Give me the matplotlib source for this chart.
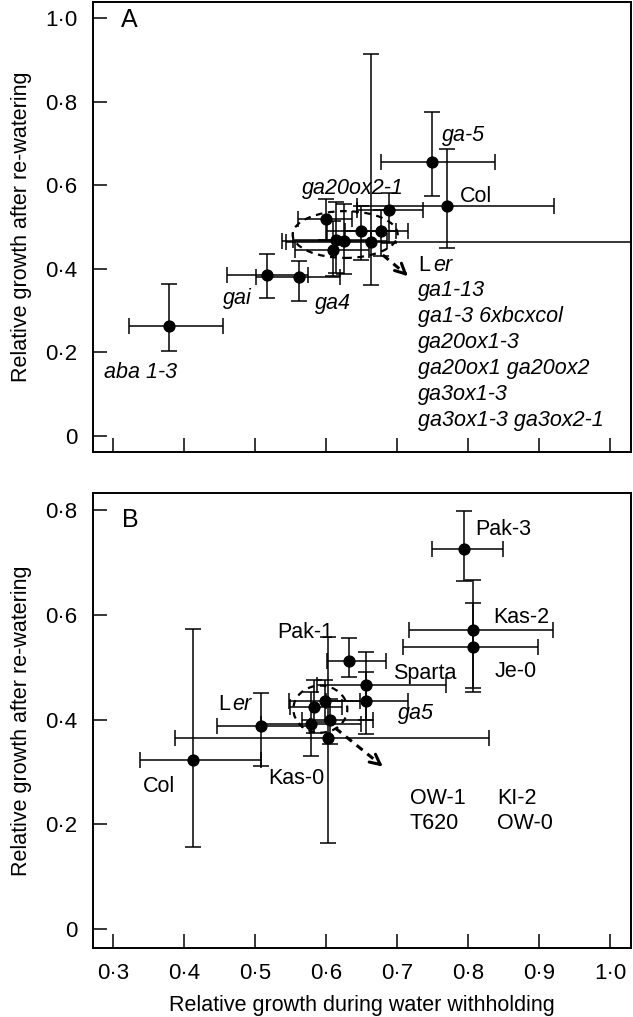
import matplotlib
matplotlib.use('Agg')
import numpy as np
from matplotlib import pyplot as plt
from matplotlib.patches import Ellipse

plt.rcParams['font.family'] = ['Liberation Sans', 'DejaVu Sans']

# panel A: GA / ABA mutants
namesA = ['aba 1-3', 'gai', 'ga4', 'ga20ox2-1', 'Ler', 'ga1-13', 'ga1-3 6xbcxcol',
          'ga20ox1-3', 'ga20ox1 ga20ox2', 'ga3ox1-3', 'ga3ox1-3 ga3ox2-1', 'ga-5', 'Col']
xA = [0.379, 0.517, 0.562, 0.600, 0.649, 0.677, 0.614, 0.626, 0.663, 0.610, 0.689, 0.749, 0.770]
yA = [0.264, 0.385, 0.380, 0.519, 0.491, 0.491, 0.469, 0.467, 0.465, 0.445, 0.541, 0.656, 0.551]
xloA = [0.057, 0.057, 0.060, 0.039, 0.048, 0.050, 0.060, 0.088, 0.120, 0.054, 0.046, 0.071, 0.127]
xhiA = [0.076, 0.057, 0.058, 0.036, 0.050, 0.039, 0.050, 0.060, 0.450, 0.050, 0.048, 0.089, 0.151]
yloA = [0.060, 0.055, 0.057, 0.050, 0.070, 0.060, 0.080, 0.080, 0.104, 0.062, 0.080, 0.082, 0.101]
yhiA = [0.100, 0.050, 0.039, 0.047, 0.060, 0.050, 0.090, 0.089, 0.450, 0.070, 0.040, 0.120, 0.136]

# panel B: accessions
namesB = ['Col', 'Ler', 'Kas-0', 'OW-1', 'KI-2', 'T620', 'OW-0', 'Pak-1', 'Sparta', 'ga5',
          'Kas-2', 'Je-0', 'Pak-3']
xB = [0.412, 0.508, 0.603, 0.598, 0.583, 0.579, 0.606, 0.633, 0.657, 0.657, 0.807, 0.807, 0.794]
yB = [0.322, 0.387, 0.364, 0.436, 0.425, 0.392, 0.399, 0.512, 0.466, 0.436, 0.572, 0.539, 0.725]
xloB = [0.074, 0.062, 0.216, 0.050, 0.034, 0.070, 0.040, 0.032, 0.070, 0.057, 0.090, 0.099, 0.044]
xhiB = [0.097, 0.070, 0.227, 0.050, 0.040, 0.070, 0.060, 0.051, 0.112, 0.058, 0.113, 0.091, 0.055]
yloB = [0.165, 0.075, 0.200, 0.040, 0.050, 0.061, 0.045, 0.030, 0.066, 0.063, 0.119, 0.079, 0.060]
yhiB = [0.252, 0.064, 0.194, 0.040, 0.050, 0.060, 0.040, 0.044, 0.064, 0.054, 0.094, 0.084, 0.074]

xticks = [0.3, 0.4, 0.5, 0.6, 0.7, 0.8, 0.9, 1.0]
yticksA = [0, 0.2, 0.4, 0.6, 0.8, 1.0]
yticksB = [0, 0.2, 0.4, 0.6, 0.8]

def dot(v):
    return '0' if v == 0 else f'{v:.1f}'.replace('.', '\u00b7')

W, H = 633, 1017
fig = plt.figure(figsize=(W / 100, H / 100), dpi=100)
axA = fig.add_axes([93 / W, 1 - 452 / H, 538 / W, 450 / H])
axB = fig.add_axes([93 / W, 1 - 948 / H, 538 / W, 455 / H])

fs = 15.5
tfs = 16
for ax, x, y, xlo, xhi, ylo, yhi, yt, ylim in [
        (axA, xA, yA, xloA, xhiA, yloA, yhiA, yticksA, (-0.0383, 1.0383)),
        (axB, xB, yB, xloB, xhiB, yloB, yhiB, yticksB, (-0.0363, 0.8329))]:
    ax.errorbar(x, y, xerr=[xlo, xhi], yerr=[ylo, yhi], fmt='o', color='black',
                ms=7.8, lw=1.1, capsize=6, capthick=1.1)
    ax.set_xlim(0.2718, 1.0296)
    ax.set_ylim(*ylim)
    ax.set_xticks(xticks)
    ax.set_yticks(yt)
    ax.set_yticklabels([dot(v) for v in yt], fontsize=tfs)
    ax.tick_params(direction='in', length=10, width=1.1)
    ax.tick_params(axis='y', pad=11)
    for s in ax.spines.values():
        s.set_linewidth(1.4)
    ax.set_ylabel('Relative growth after re-watering', fontsize=fs, labelpad=10)

axA.set_xticklabels([])
axB.set_xticklabels([dot(v) for v in xticks], fontsize=tfs)
axB.tick_params(axis='x', pad=11)
axB.set_xlabel('Relative growth during water withholding', fontsize=fs, labelpad=8)

# panel A annotations
axA.text(0.311, 0.995, 'A', fontsize=18, va='center', ha='left')
labA = [('aba 1-3', 0.287, 0.151), ('gai', 0.455, 0.330), ('ga4', 0.585, 0.318),
        ('ga20ox2-1', 0.566, 0.593), ('ga-5', 0.763, 0.720)]
for t, lx, ly in labA:
    axA.text(lx, ly, t, fontsize=fs, style='italic', va='center', ha='left')
axA.text(0.789, 0.574, 'Col', fontsize=fs, va='center', ha='left')
listA = ['ga1-13', 'ga1-3 6xbcxcol', 'ga20ox1-3', 'ga20ox1 ga20ox2',
         'ga3ox1-3', 'ga3ox1-3 ga3ox2-1']
axA.text(0.730, 0.409, 'L', fontsize=fs, va='center', ha='left')
axA.text(0.7505, 0.409, 'er', fontsize=fs, style='italic', va='center', ha='left')
for i, t in enumerate(listA):
    axA.text(0.730, 0.347 - i * 0.0622, t, fontsize=fs, style='italic', va='center', ha='left')
axA.add_patch(Ellipse((0.627, 0.482), 0.148, 0.112, fill=False, ls=(0, (3, 2.5)), lw=1.6))
axA.plot([0.680, 0.712], [0.433, 0.388], ls=(0, (2.5, 2)), lw=2.2, color='black')
axA.annotate('', xy=(0.718, 0.378), xytext=(0.708, 0.394),
             arrowprops=dict(arrowstyle='->', lw=2.2, mutation_scale=18, color='black'))

# panel B annotations
axB.text(0.312, 0.782, 'B', fontsize=18, va='center', ha='left')
labB = [('Pak-3', 0.810, 0.764), ('Kas-2', 0.835, 0.596), ('Je-0', 0.837, 0.491),
        ('Sparta', 0.694, 0.489), ('Pak-1', 0.532, 0.566), ('Kas-0', 0.518, 0.288),
        ('Col', 0.342, 0.273), ('OW-1', 0.718, 0.250), ('KI-2', 0.841, 0.250),
        ('T620', 0.718, 0.202), ('OW-0', 0.841, 0.202)]
for t, lx, ly in labB:
    axB.text(lx, ly, t, fontsize=fs, va='center', ha='left')
axB.text(0.701, 0.412, 'ga5', fontsize=fs, style='italic', va='center', ha='left')
axB.text(0.448, 0.428, 'L', fontsize=fs, va='center', ha='left')
axB.text(0.4685, 0.428, 'er', fontsize=fs, style='italic', va='center', ha='left')
axB.add_patch(Ellipse((0.592, 0.420), 0.076, 0.090, fill=False, ls=(0, (3, 2.5)), lw=1.6))
axB.plot([0.613, 0.676], [0.384, 0.315], ls=(0, (2.5, 2)), lw=2.2, color='black')
axB.annotate('', xy=(0.683, 0.307), xytext=(0.672, 0.319),
             arrowprops=dict(arrowstyle='->', lw=2.2, mutation_scale=18, color='black'))

fig.savefig('out.png', dpi=100)
